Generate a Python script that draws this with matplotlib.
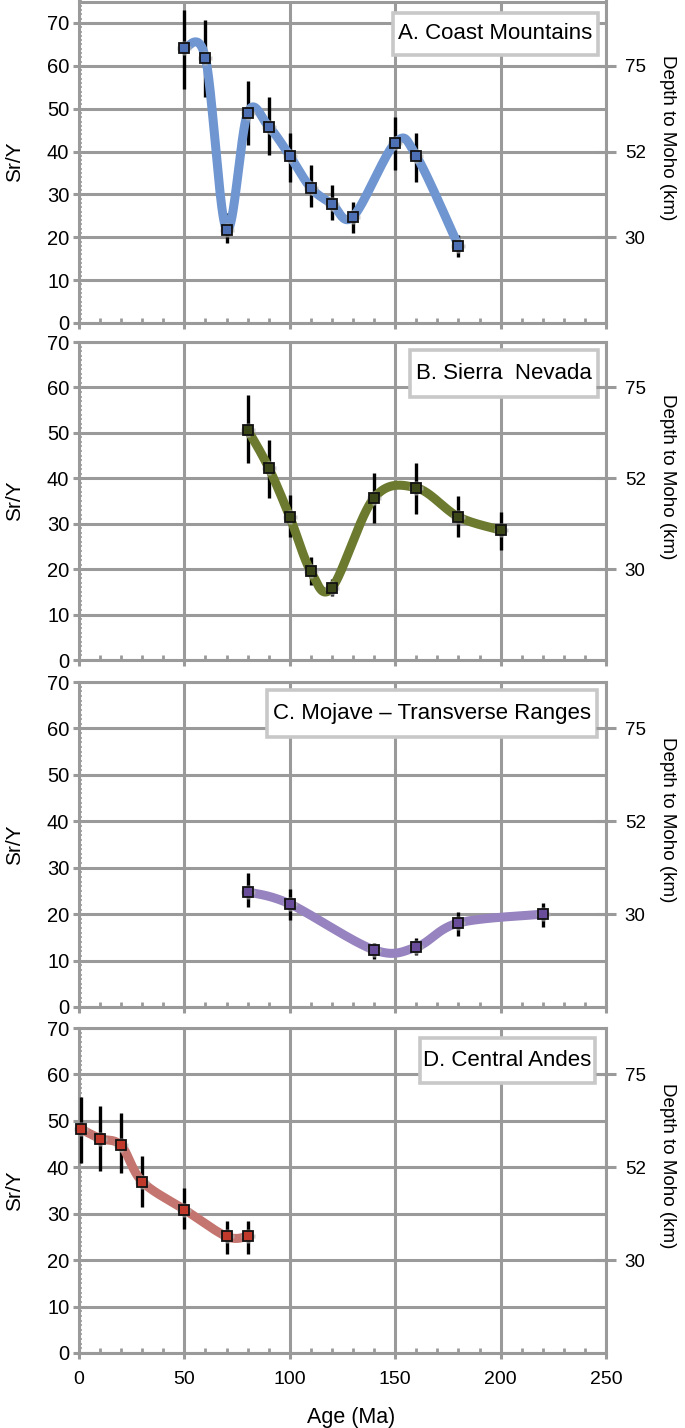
import numpy as np
import matplotlib
matplotlib.use("Agg")
import matplotlib.pyplot as plt
from matplotlib.patches import Rectangle
from matplotlib.ticker import MultipleLocator

plt.rcParams['font.family'] = ['Liberation Sans', 'DejaVu Sans']

# ---------------- data ----------------
# A. Coast Mountains
a_age = [50, 60, 70, 80, 90, 100, 110, 120, 130, 150, 160, 180]
a_sry = [64.2, 61.8, 21.8, 49.0, 45.8, 39.0, 31.5, 27.8, 24.8, 42.0, 39.0, 18.0]
a_lo = [54.5, 52.8, 18.6, 41.5, 39.2, 33.0, 27.0, 24.0, 21.0, 35.7, 33.0, 15.5]
a_hi = [73.0, 70.6, 25.6, 56.4, 52.7, 44.3, 36.8, 32.2, 28.2, 48.0, 44.3, 20.5]

# B. Sierra Nevada
b_age = [80, 90, 100, 110, 120, 140, 160, 180, 200]
b_sry = [50.7, 42.3, 31.5, 19.5, 15.9, 35.7, 37.9, 31.5, 28.6]
b_lo = [43.4, 35.7, 27.1, 16.5, 14.0, 30.2, 32.2, 27.1, 24.2]
b_hi = [58.4, 48.5, 36.3, 22.7, 17.8, 41.2, 43.4, 36.1, 32.6]

# C. Mojave - Transverse Ranges
c_age = [80, 100, 140, 160, 180, 220]
c_sry = [24.8, 22.2, 12.3, 12.9, 18.1, 20.0]
c_lo = [21.6, 18.7, 10.3, 11.2, 15.3, 17.2]
c_hi = [28.9, 25.4, 13.8, 14.9, 20.5, 22.4]

# D. Central Andes
d_age = [1, 10, 20, 30, 50, 70, 80]
d_sry = [48.2, 46.2, 44.7, 36.9, 30.9, 25.1, 25.1]
d_lo = [41.0, 39.3, 38.7, 31.5, 26.8, 21.4, 21.4]
d_hi = [55.1, 53.1, 51.6, 42.5, 35.6, 28.5, 28.5]

titles = ["A. Coast Mountains", "B. Sierra  Nevada",
          "C. Mojave \u2013 Transverse Ranges", "D. Central Andes"]
x_ticks = [0, 50, 100, 150, 200, 250]
y_ticks = [0, 10, 20, 30, 40, 50, 60, 70]
moho_pos = [20, 40, 60]
moho_labels = ["30", "52", "75"]

# ---------------- helpers ----------------
def smooth(x, y, n=40):
    pts = np.column_stack([x, y]).astype(float)
    P = np.vstack([pts[0], pts, pts[-1]])
    out = []
    t = np.linspace(0, 1, n)[:, None]
    for i in range(len(pts) - 1):
        p0, p1, p2, p3 = P[i], P[i + 1], P[i + 2], P[i + 3]
        c1 = p1 + (p2 - p0) / 6.0
        c2 = p2 - (p3 - p1) / 6.0
        seg = (1 - t) ** 3 * p1 + 3 * (1 - t) ** 2 * t * c1 + 3 * (1 - t) * t ** 2 * c2 + t ** 3 * p2
        out.append(seg if i == 0 else seg[1:])
    s = np.vstack(out)
    return s[:, 0], s[:, 1]

W, H = 685, 1428
fig = plt.figure(figsize=(W / 100, H / 100), dpi=100)
fig.patch.set_facecolor('white')

GRID = '#9a9a9a'
AX_L, AX_R = 79, 606

panels = [
    dict(top=1.5, bot=323, ymax=75, age=a_age, v=a_sry, lo=a_lo, hi=a_hi,
         color='#6f96d1', mfc='#4d6fb3', box=(0.596, 0.834, 0.985, 0.964)),
    dict(top=342, bot=660, ymax=70, age=b_age, v=b_sry, lo=b_lo, hi=b_hi,
         color='#6b7a2f', mfc='#3c4718', box=(0.628, 0.827, 0.985, 0.975)),
    dict(top=682, bot=1007, ymax=70, age=c_age, v=c_sry, lo=c_lo, hi=c_hi,
         color='#9683bf', mfc='#6a4d9a', box=(0.357, 0.831, 0.983, 0.975)),
    dict(top=1028, bot=1353, ymax=70, age=d_age, v=d_sry, lo=d_lo, hi=d_hi,
         color='#c4756f', mfc='#c0392b', box=(0.647, 0.831, 0.979, 0.969)),
]

for i, p in enumerate(panels):
    ax = fig.add_axes([AX_L / W, 1 - p['bot'] / H, (AX_R - AX_L) / W, (p['bot'] - p['top']) / H])
    ax.set_xlim(0, 250)
    ax.set_ylim(0, p['ymax'])
    ax.set_facecolor('white')
    for sp in ax.spines.values():
        sp.set_color(GRID)
        sp.set_linewidth(2.2)
        sp.set_zorder(2.5)
    ax.set_xticks(x_ticks)
    ax.set_yticks(y_ticks)
    ax.xaxis.set_minor_locator(MultipleLocator(10))
    ax.yaxis.set_minor_locator(MultipleLocator(1))
    ax.grid(True, which='major', color=GRID, linewidth=2.2, zorder=0)
    ax.set_axisbelow(True)
    ax.tick_params(axis='x', which='major', direction='out', length=4, width=2.2,
                   color=GRID, pad=9, labelsize=14, labelbottom=(i == 3))
    ax.tick_params(axis='x', which='minor', direction='in', length=3.5, width=2.0, color=GRID)
    ax.tick_params(axis='y', which='major', direction='out', length=4, width=2.2,
                   color=GRID, pad=3, labelsize=14.5)
    ax.tick_params(axis='y', which='minor', direction='in', length=2.0, width=1.2, color=GRID)
    ax.set_ylabel("Sr/Y", fontsize=15)
    ax.yaxis.set_label_coords(-0.104, 0.5)

    v = np.array(p['v']); lo = np.array(p['lo']); hi = np.array(p['hi'])
    eb = ax.errorbar(p['age'], v, yerr=[v - lo, hi - v], fmt='none', ecolor='black',
                     elinewidth=2.4, capsize=0, zorder=3)
    for c in eb[2]:
        c.set_clip_on(False)
    sx, sy = smooth(p['age'], p['v'])
    ax.plot(sx, sy, color=p['color'], linewidth=6.5, solid_capstyle='round', zorder=4,
            clip_on=False)
    ax.plot(p['age'], p['v'], linestyle='none', marker='P', markersize=10.5,
            markerfacecolor='#b5b5b5', markeredgecolor='none', alpha=0.7, zorder=5,
            clip_on=False)
    ax.plot(p['age'], p['v'], linestyle='none', marker='s', markersize=6.5,
            markerfacecolor=p['mfc'], markeredgecolor='#111111', markeredgewidth=1.3, zorder=6,
            clip_on=False)

    x0, y0, x1, y1 = p['box']
    ax.add_patch(Rectangle((x0, y0), x1 - x0, y1 - y0, transform=ax.transAxes,
                           facecolor='white', edgecolor='#c8c8c8', linewidth=2.6,
                           zorder=7, clip_on=False))
    ax.text((x0 + x1) / 2, (y0 + y1) / 2, titles[i], transform=ax.transAxes,
            ha='center', va='center', fontsize=16, color='black', zorder=8)

    ax2 = ax.twinx()
    ax2.set_ylim(0, p['ymax'])
    ax2.set_yticks(moho_pos)
    ax2.set_yticklabels(moho_labels)
    ax2.tick_params(axis='y', direction='inout', length=15, width=2.2, color=GRID,
                    pad=6, labelsize=13.5)
    for sp in ax2.spines.values():
        sp.set_visible(False)
    ax2.set_ylabel("Depth to Moho (km)", rotation=270, fontsize=13.5)
    ax2.yaxis.set_label_coords(1.132, 0.575)

    if i == 3:
        ax.set_xlabel("Age (Ma)", fontsize=15.5)
        ax.xaxis.set_label_coords(0.516, -0.165)

fig.savefig("out.png", dpi=100, facecolor='white')
